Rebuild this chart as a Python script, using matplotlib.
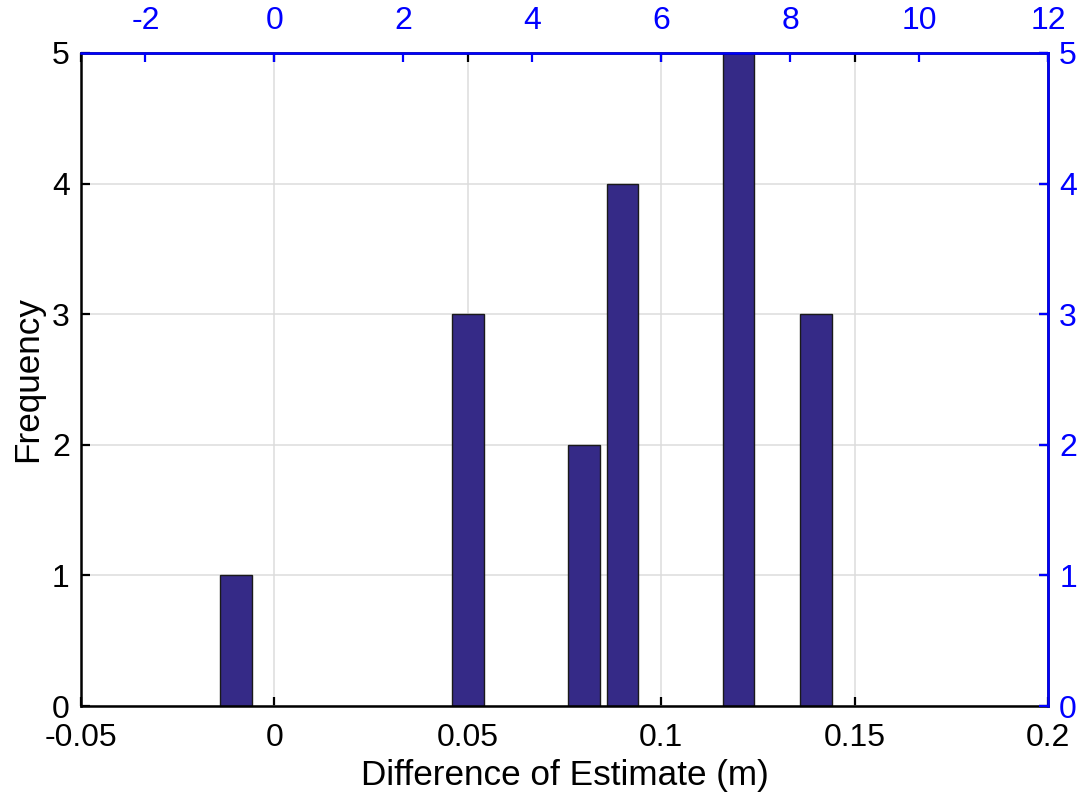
import matplotlib
matplotlib.use("Agg")
import matplotlib.pyplot as plt

# Histogram data: bin centres (m) and counts
bin_centers = [-0.01, 0.05, 0.08, 0.09, 0.12, 0.14]
counts = [1, 3, 2, 4, 5, 3]
bar_width = 0.0082

x_ticks = [-0.05, 0, 0.05, 0.1, 0.15, 0.2]
x_tick_labels = ["-0.05", "0", "0.05", "0.1", "0.15", "0.2"]
y_ticks = [0, 1, 2, 3, 4, 5]
top_ticks = [-2, 0, 2, 4, 6, 8, 10, 12]

plt.rcParams["font.family"] = ["Liberation Sans", "DejaVu Sans"]
plt.rcParams["axes.unicode_minus"] = False

fig = plt.figure(figsize=(10.81, 8), dpi=100)
pos = [0.0749, 0.1175, 0.8946, 0.8163]
ax = fig.add_axes(pos)

ax.bar(bin_centers, counts, width=bar_width, color="#352A87",
       edgecolor="#1a1a1a", linewidth=1.0, zorder=2)

ax.set_xlim(-0.05, 0.2)
ax.set_ylim(0, 5)
ax.set_xticks(x_ticks)
ax.set_xticklabels(x_tick_labels)
ax.set_yticks(y_ticks)
ax.grid(True, color="#dcdcdc", linewidth=1.1, zorder=0)
ax.set_axisbelow(True)
ax.tick_params(direction="in", length=6.5, width=1.6, labelsize=23,
               top=True, right=True, colors="black")
ax.tick_params(axis="x", pad=12.5)
ax.tick_params(axis="y", pad=8)
for s in ax.spines.values():
    s.set_linewidth(1.8)
    s.set_color("black")
ax.set_xlabel("Difference of Estimate (m)", fontsize=25.3, labelpad=4)
ax.set_ylabel("Frequency", fontsize=25.3, labelpad=6)

# Secondary axes on top/right in blue
ax2 = fig.add_axes(pos, facecolor="none")
ax2.set_xlim(-3, 12)
ax2.set_ylim(0, 5)
ax2.set_xticks(top_ticks)
ax2.set_yticks(y_ticks)
ax2.xaxis.set_ticks_position("top")
ax2.xaxis.set_label_position("top")
ax2.yaxis.set_ticks_position("right")
ax2.yaxis.set_label_position("right")
ax2.tick_params(direction="in", length=6.5, width=1.6, labelsize=23,
                colors="#0000ff")
ax2.tick_params(axis="x", pad=12.5)
ax2.tick_params(axis="y", pad=8)
ax2.spines["bottom"].set_visible(False)
ax2.spines["left"].set_visible(False)
for side in ("top", "right"):
    ax2.spines[side].set_color("#0000ff")
    ax2.spines[side].set_linewidth(1.8)

fig.savefig("out.png", dpi=100)
